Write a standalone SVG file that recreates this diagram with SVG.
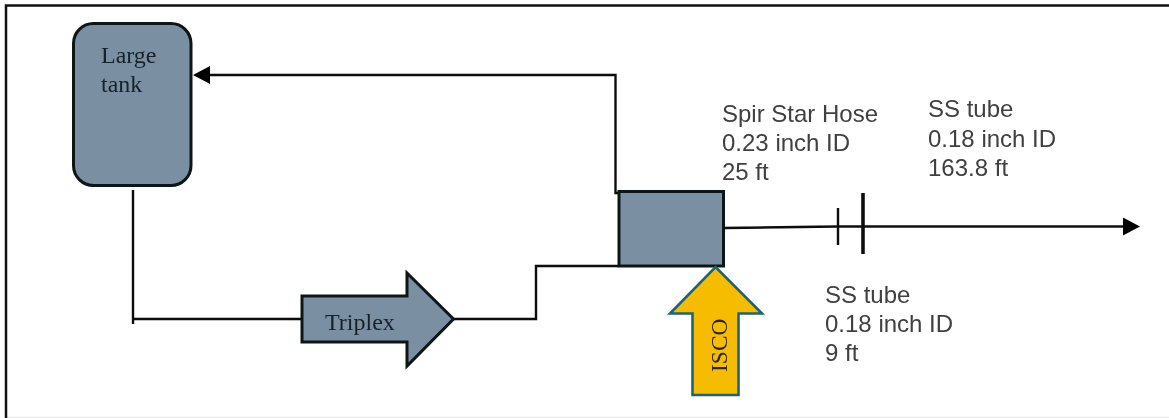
<svg xmlns="http://www.w3.org/2000/svg" width="1169" height="418" viewBox="0 0 1169 418">
<style>
.line{fill:none;stroke:#0d0d0d;stroke-width:2.4}
.shape{fill:#7a8fa1;stroke:#0f1418;stroke-width:3}
.serif{font-family:"Liberation Serif",serif;font-size:24px;fill:#15222c}
.sans{font-family:"Liberation Sans",sans-serif;font-size:24px;fill:#404040}
</style>
<defs>
<marker id="ah" markerUnits="userSpaceOnUse" markerWidth="20" markerHeight="20" refX="7" refY="9" orient="auto"><path d="M0 0L17 9L0 18Z" fill="#000"/></marker>
<filter id="soft" filterUnits="userSpaceOnUse" x="0" y="0" width="1169" height="418"><feGaussianBlur stdDeviation="0.45"/></filter>
</defs>
<rect width="1169" height="418" fill="#fff"/>
<path id="frame-base" d="M7 417.500H1169" fill="none" stroke="#e6e6e6" stroke-width="1.500"/>
<path id="frame" d="M6 418V5.500H1169" fill="none" stroke="#111" stroke-width="2.500"/>
<g filter="url(#soft)">
<g id="connectors">
<path class="line" d="M619 193H615.500V75H203" marker-end="url(#ah)"/>
<path class="line" d="M133 190V324"/>
<path class="line" d="M133 319H302"/>
<path class="line" d="M454 319H536V266H619"/>
<path class="line" d="M724 228L838 226.500H1130" marker-end="url(#ah)"/>
<path d="M838 208V245" stroke="#0d0d0d" stroke-width="2.400"/>
<path d="M863 193V254" stroke="#0d0d0d" stroke-width="3.600"/>
</g>
<g id="tank"><rect class="shape" x="73.500" y="23.500" width="117.500" height="162" rx="20"/><text class="serif" x="101" y="63">Large</text><text class="serif" x="101" y="92">tank</text></g>
<g id="triplex"><path class="shape" d="M302 296H407V273L453.500 319L407 366V342H302Z"/><text class="serif" x="325" y="330">Triplex</text></g>
<g id="mixer"><rect class="shape" x="619" y="191.500" width="104.500" height="74.500"/></g>
<g id="isco"><path d="M715.500 267L762 313.500H738.500V395H692.500V313.500H670Z" fill="#f6bd02" stroke="#1d6478" stroke-width="2.600"/><text transform="translate(727 372) rotate(-90)" font-family="Liberation Serif, serif" font-size="23.500" fill="#2b2410">ISCO</text></g>
<g id="label-hose"><text class="sans" x="722" y="122">Spir Star Hose</text><text class="sans" x="722" y="151">0.23 inch ID</text><text class="sans" x="722" y="180">25 ft</text></g>
<g id="label-tube-long"><text class="sans" x="928" y="117">SS tube</text><text class="sans" x="928" y="147">0.18 inch ID</text><text class="sans" x="928" y="176">163.8 ft</text></g>
<g id="label-tube-short"><text class="sans" x="825" y="303">SS tube</text><text class="sans" x="825" y="332">0.18 inch ID</text><text class="sans" x="825" y="361">9 ft</text></g>
</g>
</svg>
